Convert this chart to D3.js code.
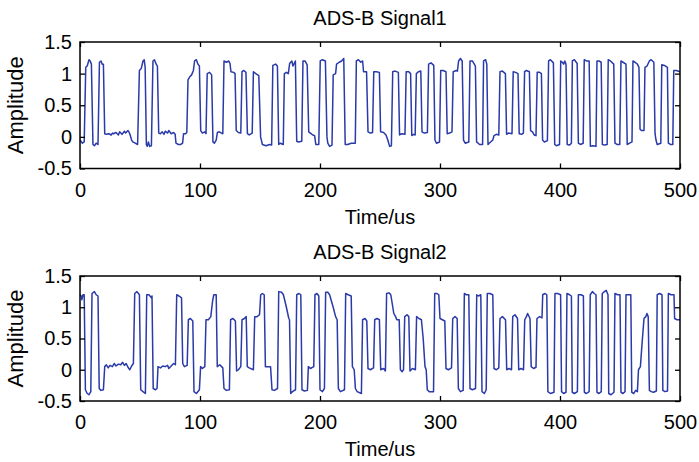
<!DOCTYPE html>
<html>
<head>
<meta charset="utf-8">
<script src="https://cdn.jsdelivr.net/npm/d3@7"></script>
<style>
  body { margin: 0; background: #fff; }
  svg { font-family: "Liberation Sans", Arial, Helvetica, sans-serif; }
</style>
</head>
<body>
<div id="graph"></div>
<script>
var titles = ["ADS-B Signal1", "ADS-B Signal2"];
var xLabel = "Time/us";
var yLabel = "Amplitude";
var xTicks = [0, 100, 200, 300, 400, 500];
var yTicks = [-0.5, 0, 0.5, 1, 1.5];

// [time, amplitude] vertices
var signal1 = [
  [0,-0.05],[2,-0.1],[3.5,-0.08],[4.8,1.1],[6,1.12],[7.5,1.22],[8.5,1.2],[9.5,1.15],
  [10.8,-0.12],[12,-0.14],[13.5,-0.1],[15,-0.12],
  [16.2,1.18],[17.5,1.2],[18.5,1.15],[19.5,1.15],
  [20.6,0.05],[22,0.04],[24,0.05],[26,0.03],[27,0.06],[28,0.05],[30,0.07],[32,0.03],[33,0.08],[35,0.04],
  [37,0.09],[38,0.06],[40,0.1],[41,0.07],[42,0.02],[43,-0.05],[44,-0.08],[46,-0.1],[48,-0.12],
  [49.5,1.05],[51,1.08],[52.5,1.2],[53.5,1.22],[54.3,1.1],
  [55.3,-0.12],[56,-0.15],[57,-0.08],[58,-0.15],[59.5,-0.14],
  [60.8,1.2],[62,1.22],[63.5,1.15],[64.5,1.12],
  [65.6,0.06],[67,0.05],[68.5,0.08],[70,0.04],[71,0.09],[73,0.06],[74,0.1],[76,0.05],[78,0.07],[79.3,0.04],
  [80,-0.1],[82,-0.12],[84,-0.12],[85.5,-0.1],[86.3,0.05],[88,0.05],[89,0.07],
  [90,0.9],[91.5,0.95],[93,0.98],[94.5,1.05],[95.5,1.2],[97,1.22],[98.3,1.15],[99.5,1.12],
  [100.6,0.1],[102,0.06],[104,0.08],[105,0.05],
  [106,1.0],[108,1.02],[109.7,0.98],
  [110.8,-0.08],[112,-0.1],[113.5,-0.05],[114.5,0.07],[116,0.08],[118,0.06],[119,0.05],
  [120,1.2],[122,1.18],[124,1.2],[125,1.16],[125.8,1.03],[128,1.02],[129.2,1.0],
  [130.2,0.1],[132,0.07],[134,0.06],
  [135,1.03],[136.5,1.05],[138.3,1.02],
  [139.5,0.05],[141,0.03],[143.5,0.06],
  [144.5,1.03],[146.5,1.0],[149,0.97],
  [150.5,0.0],[152,-0.12],[155,-0.14],[158,-0.12],[159.7,-0.13],
  [160.7,1.13],[163,1.15],[164.5,1.12],
  [165.6,-0.12],[167,-0.1],[169.4,-0.12],
  [170.3,1.0],[172,1.02],[173.6,1.0],[174.7,1.16],[176.5,1.2],[177.5,1.12],[179.5,1.2],
  [180.6,-0.07],[182,-0.08],[184.8,-0.07],
  [185.8,1.2],[187.5,1.2],[189.3,1.14],
  [190.6,0.08],[192,0.06],[194,0.03],[195.5,0.02],[196.5,-0.12],[199,-0.12],
  [200.2,1.2],[202,1.22],[204.5,1.2],
  [205.8,0.0],[206.5,-0.1],[208,-0.15],[210,-0.13],
  [211,0.98],[213,1.0],[213.8,1.15],[216,1.18],[218,1.2],[219.8,1.24],
  [221,-0.12],[223,-0.12],[226,-0.1],[229.4,-0.1],
  [230.3,1.2],[232,1.22],[234,1.18],[235.5,1.2],[236.3,1.03],[238.8,1.03],
  [240,0.08],[242,0.06],[243.8,0.07],
  [244.8,1.03],[247,1.03],[249.5,1.02],
  [250.5,0.08],[253,0.07],[255,0.03],[256.5,-0.05],[258,-0.15],[259.5,-0.14],
  [260.6,1.03],[262.5,1.04],[265.3,1.02],
  [266.3,0.03],[268,0.05],[270.8,0.04],
  [271.8,1.03],[274,1.03],[275.5,1.0],
  [276.5,0.02],[278,0.04],[279.3,0.03],
  [280.3,1.0],[282,1.03],[284,1.04],
  [285,0.08],[287,0.06],[289.5,0.07],
  [290.5,1.15],[292.5,1.17],[294.8,1.13],
  [295.8,-0.05],[297,-0.1],[299.6,-0.08],
  [300.6,1.05],[302.5,1.05],[305,1.03],
  [306,0.05],[308,0.06],[310,0.08],
  [311,1.03],[313.5,1.05],[314.5,1.04],[315.5,1.2],[317,1.24],[318.5,1.2],
  [319.6,-0.05],[321,-0.1],[324,-0.08],
  [325,1.2],[327,1.2],[329.5,1.12],
  [330.5,-0.08],[333,-0.12],[335.5,-0.12],
  [336.3,1.2],[338,1.22],[339,1.15],
  [340,-0.12],[341,-0.1],[344,-0.05],[345,0.02],[347,0.04],[349,0.03],
  [350,1.03],[352,1.04],[354.5,1.0],
  [355.5,0.04],[357,0.06],[360,0.05],
  [361,1.03],[363,1.02],[365,1.0],
  [366,0.05],[368,0.04],[369.5,0.06],
  [370.5,1.03],[372,1.05],[374.5,1.03],
  [375.5,0.1],[377,0.08],[378.5,0.03],[380,0.02],
  [381,1.02],[383,1.02],[384.5,1.0],
  [385.5,-0.05],[387,-0.08],[389.5,-0.06],
  [390.5,1.2],[392,1.22],[394.5,1.17],
  [395.6,-0.12],[397,-0.14],[399.6,-0.12],
  [400.6,1.2],[402,1.18],[403,1.15],[404,1.2],[405,1.15],
  [406,-0.12],[408,-0.13],[409.5,-0.1],
  [410.3,1.2],[412,1.22],[414.3,1.16],
  [415.3,-0.1],[417,-0.12],[419.3,-0.1],
  [420.2,1.22],[422,1.2],[424.3,1.2],
  [425.3,-0.15],[427,-0.14],[430,-0.15],
  [430.8,1.2],[432.5,1.2],[434.3,1.18],
  [435.3,-0.12],[437,-0.13],[439.3,-0.12],
  [440.2,1.22],[442,1.2],[444.8,1.15],
  [445.8,-0.1],[447.5,-0.12],[449.8,-0.12],
  [450.8,1.2],[452.5,1.18],[455,1.15],
  [456,-0.12],[458,-0.1],[460,-0.08],
  [460.8,1.2],[462.5,1.18],[464.5,1.15],[465.8,1.1],
  [466.7,0.12],[468,0.1],[470,0.1],
  [470.8,1.1],[472.5,1.12],[474.5,1.2],[476,1.22],[478.2,1.18],
  [479.2,0.05],[480,-0.05],[481,-0.12],[484,-0.1],
  [484.8,1.14],[487,1.13],[489.5,1.1],
  [490.3,-0.1],[492,-0.12],[494,-0.12],
  [494.8,1.05],[497,1.05],[500,1.03]
];

var signal2 = [
  [0,1.2],[1,1.18],[1.5,1.12],[2.5,1.2],[3.5,1.2],
  [4.5,-0.32],[6,-0.38],[7.5,-0.4],[9,-0.35],
  [10,1.22],[12,1.25],[13.5,1.2],[15,1.18],
  [16,-0.3],[17.5,-0.33],[19.5,-0.32],
  [20.6,0.05],[22,0.08],[23.5,0.03],[25,0.07],[27,0.05],[28.5,0.1],[30,0.06],[32,0.09],[34,0.08],
  [35.5,0.12],[37,0.07],[38.5,0.1],[40,0.04],[41.5,0.0],[43,0.06],[44.5,0.1],
  [45.6,1.22],[47.5,1.25],[49.5,1.2],
  [50.6,-0.32],[52.5,-0.35],[54.5,-0.38],
  [55.6,1.2],[57.5,1.2],[59.5,1.15],[60,1.18],
  [61,-0.3],[63,-0.32],[64.2,-0.3],
  [65,0.05],[67,0.03],[69,0.06],[71,0.05],[73,0.07],[74,0.02],[76,0.06],[78,0.1],[79.5,0.08],
  [80.6,1.2],[82.5,1.18],[84.6,1.15],
  [85.6,0.1],[87,0.05],[89.3,0.07],
  [90.3,0.8],[92,0.82],[94,0.78],
  [95,-0.35],[97,-0.38],[99.5,-0.32],
  [100.5,0.05],[102,0.02],[104,0.05],
  [105,0.8],[107,0.8],[109,0.85],[110.5,1.1],[111.5,1.2],[113.5,1.2],
  [114.4,0.05],[116.5,0.08],[119,0.03],
  [120,-0.3],[122,-0.33],[124.5,-0.32],
  [125.5,0.8],[127.5,0.82],[129.5,0.78],
  [130.5,-0.02],[132,0.0],[134,0.05],
  [135,0.8],[137,0.82],[138.5,0.85],
  [139.4,0.05],[141,0.03],[144.5,0.0],
  [145.6,0.85],[147.5,0.85],[149.6,0.88],[150.6,1.2],[152,1.22],[153.5,1.2],
  [154.5,0.05],[156,0.05],[158.8,0.05],
  [160,-0.32],[162,-0.33],[164.6,-0.3],
  [165.6,1.25],[168,1.24],[169.5,1.2],[172,1.0],[174,0.82],[174.6,0.8],
  [175.6,-0.38],[177,-0.35],[179.6,-0.32],
  [180.6,1.2],[182.5,1.22],[184,1.2],
  [185,-0.32],[187,-0.34],[189.5,-0.33],
  [190.3,0.05],[192,0.02],[194.8,0.05],
  [195.8,1.2],[197.5,1.22],[199,1.18],
  [200,-0.32],[202,-0.35],[203.7,-0.3],
  [204.7,1.24],[206.5,1.24],[208,1.2],[211,1.0],[213,0.85],[214.3,0.8],
  [215.3,-0.3],[217,-0.35],[220.4,-0.32],
  [221.4,1.22],[223.5,1.2],[226,1.18],
  [227,0.05],[228.5,0.0],[229.5,-0.3],[231,-0.35],[234.5,-0.38],
  [235.5,0.8],[237.5,0.82],[239,0.78],
  [240,0.02],[242,0.0],[244.6,0.03],
  [245.6,0.8],[247.5,0.82],[249.5,0.8],
  [250.6,0.0],[253,0.02],[254.5,-0.02],
  [255.5,1.22],[257.5,1.23],[259,1.2],[261.5,0.9],[263,0.85],[264,0.8],[266,0.8],
  [267,0.0],[268.5,-0.03],[269.6,0.0],
  [270.6,0.85],[272.5,0.88],[274,0.85],
  [275,-0.02],[277,0.02],[279.5,0.0],
  [280.5,0.85],[282.5,0.82],[284.5,0.8],
  [286,0.5],[287.5,0.05],[288.5,0.0],[289.4,-0.32],[291,-0.35],[294.6,-0.35],
  [295.6,1.22],[297.5,1.22],[299,1.2],
  [300,0.82],[302,0.8],[304,0.78],
  [305,0.02],[307,0.0],[309.6,0.03],
  [310.6,0.82],[312.5,0.85],[314.3,0.82],
  [315.3,-0.3],[317,-0.35],[319.3,-0.33],
  [320.3,1.22],[322,1.2],[324,1.2],
  [325,-0.3],[327,-0.32],[329.6,-0.3],
  [330.6,1.2],[332,1.18],[334,1.2],
  [335,-0.35],[337,-0.38],[338.5,-0.32],
  [339.4,1.22],[341.5,1.22],[344,1.2],
  [345,0.02],[347,0.0],[349,0.03],
  [350,0.82],[352,0.85],[354.6,0.8],
  [355.6,0.0],[357.5,0.02],[359.6,0.0],
  [360.6,0.85],[362.5,0.88],[364.6,0.82],
  [365.6,0.0],[367.5,0.02],[369.6,0.0],
  [370.6,0.8],[372,0.85],[373,0.9],[375,0.82],
  [376,0.05],[378,0.02],[380,0.04],
  [380.8,0.82],[383,0.85],[385,0.83],
  [385.6,1.2],[387.5,1.22],[389,1.2],
  [389.9,-0.35],[392,-0.38],[395,-0.36],
  [395.8,1.22],[398,1.22],[400.5,1.2],
  [401.3,-0.35],[403,-0.38],[405,-0.36],
  [405.8,1.22],[408,1.2],[409.5,1.18],
  [410.2,-0.36],[412,-0.38],[414.5,-0.35],
  [415.3,1.2],[417.5,1.2],[419.5,1.18],
  [420.3,-0.36],[422,-0.38],[424.3,-0.35],
  [425.2,1.2],[427,1.25],[428.5,1.22],[430,1.2],
  [430.8,-0.36],[432.5,-0.38],[434.4,-0.35],
  [435.2,1.22],[437,1.25],[438.5,1.27],[440,1.2],
  [440.6,-0.38],[442.5,-0.4],[445,-0.36],
  [445.8,1.22],[448,1.2],[450,1.2],
  [450.8,-0.36],[452.5,-0.38],[454.2,-0.35],
  [455,1.2],[457,1.2],[459,1.2],
  [459.8,-0.36],[461.5,-0.38],[463,-0.33],[464.5,-0.35],
  [465.4,0.0],[467,0.05],[468.5,0.45],[470,0.82],[471.5,0.85],[472.5,0.9],[473.5,0.85],
  [474.5,-0.33],[476,-0.35],[478,-0.36],[480.3,-0.34],
  [481,1.2],[483,1.22],[485,1.2],
  [485.7,-0.33],[487.5,-0.35],[489.6,-0.34],
  [490.3,1.22],[492.5,1.2],[495,1.2],
  [495.5,0.82],[497.5,0.8],[500,0.8]
];

var width = 699, height = 462;
var lineColor = "#2a3aa8";
var fontSize = 20;

var svg = d3.select("#graph")
  .append("svg")
  .attr("width", width)
  .attr("height", height);

svg.append("rect")
  .attr("width", width)
  .attr("height", height)
  .attr("fill", "#fff");

var panels = [
  { data: signal1, title: titles[0], top: 42, bottom: 168.5 },
  { data: signal2, title: titles[1], top: 276, bottom: 401 }
];

var left = 80, right = 680;

var x = d3.scaleLinear().domain([0, 500]).range([left, right]);

function fmt(d) { return String(d); }

panels.forEach(function(p) {
  var y = d3.scaleLinear().domain([-0.5, 1.5]).range([p.bottom, p.top]);
  var g = svg.append("g");

  // signal
  var line = d3.line()
    .x(function(d) { return x(d[0]); })
    .y(function(d) { return y(d[1]); });

  g.append("path")
    .datum(p.data)
    .attr("fill", "none")
    .attr("stroke", lineColor)
    .attr("stroke-width", 1.5)
    .attr("stroke-linejoin", "round")
    .attr("d", line);

  // axes, ticks pointing inward
  var bottomAxis = g.append("g")
    .attr("transform", "translate(0," + p.bottom + ")")
    .call(d3.axisBottom(x).tickValues(xTicks).tickFormat(fmt).tickSizeInner(-5).tickSizeOuter(0).tickPadding(14));
  var leftAxis = g.append("g")
    .attr("transform", "translate(" + left + ",0)")
    .call(d3.axisLeft(y).tickValues(yTicks).tickFormat(fmt).tickSizeInner(-5).tickSizeOuter(0).tickPadding(8));
  var topAxis = g.append("g")
    .attr("transform", "translate(0," + p.top + ")")
    .call(d3.axisTop(x).tickValues(xTicks).tickFormat("").tickSizeInner(-5).tickSizeOuter(0));
  var rightAxis = g.append("g")
    .attr("transform", "translate(" + right + ",0)")
    .call(d3.axisRight(y).tickValues(yTicks).tickFormat("").tickSizeInner(-5).tickSizeOuter(0));

  [bottomAxis, leftAxis, topAxis, rightAxis].forEach(function(a) {
    a.selectAll(".domain").remove();
    a.selectAll(".tick line").attr("stroke", "#000").attr("stroke-width", 1.3);
    a.selectAll("text")
      .attr("fill", "#000")
      .style("font-size", fontSize + "px")
      .style("font-family", "'Liberation Sans', Arial, sans-serif");
  });

  // box
  g.append("rect")
    .attr("x", left)
    .attr("y", p.top)
    .attr("width", right - left)
    .attr("height", p.bottom - p.top)
    .attr("fill", "none")
    .attr("stroke", "#000")
    .attr("stroke-width", 1.5);

  g.append("text")
    .attr("x", (left + right) / 2)
    .attr("y", p.top - 17)
    .attr("text-anchor", "middle")
    .style("font-size", fontSize + "px")
    .text(p.title);

  g.append("text")
    .attr("x", (left + right) / 2)
    .attr("y", p.bottom + 55)
    .attr("text-anchor", "middle")
    .style("font-size", fontSize + "px")
    .text(xLabel);

  g.append("text")
    .attr("transform", "translate(23," + (p.top + p.bottom) / 2 + ") rotate(-90)")
    .attr("text-anchor", "middle")
    .style("font-size", "22px")
    .text(yLabel);
});
</script>
</body>
</html>
